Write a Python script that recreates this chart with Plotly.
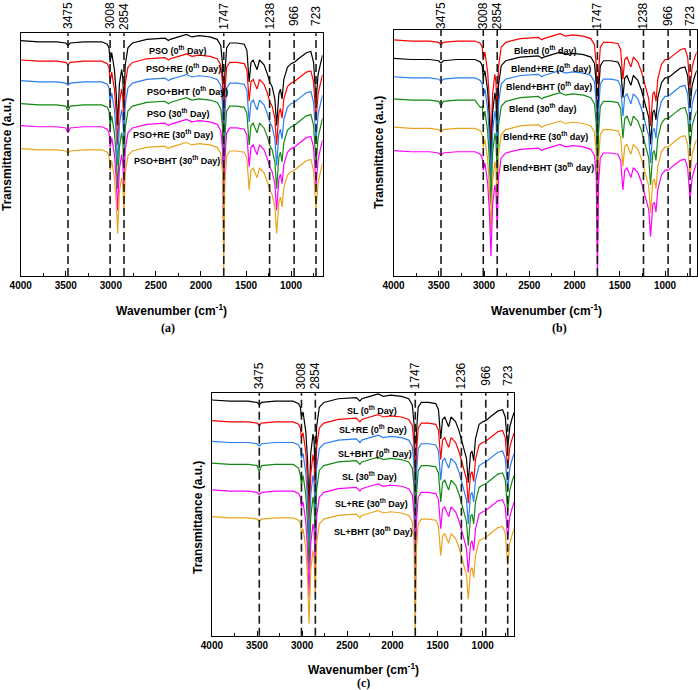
import plotly.graph_objects as go

# ---------------- data ----------------
WN = [4000, 3800, 3600, 3500, 3475, 3450, 3300, 3100, 3040, 3020,
      3008, 2990, 2960, 2940, 2924, 2905, 2880, 2868, 2854, 2840,
      2810, 2760, 2600, 2400, 2360, 2340, 2250, 2160, 2100, 2020,
      1900, 1820, 1780, 1760, 1747, 1735, 1715, 1680, 1600, 1520,
      1490, 1465, 1445, 1420, 1400, 1377, 1350, 1300, 1260, 1238,
      1210, 1180, 1160, 1135, 1118, 1100, 1080, 1040, 1000, 966,
      900, 830, 780, 750, 723, 700, 670, 650]

# Panel (a)
PSO_0 = [97, 96.5, 96.5, 96, 95, 96, 96.5, 96.5, 95.5, 94,
         88, 92, 85, 75, 62, 79, 85, 82, 70, 87,
         94, 96, 97.5, 98, 97, 97.5, 98.5, 99.5, 98.5, 99,
         98.5, 97.5, 95, 87, 47, 83, 94, 96, 96, 95.5,
         93, 80, 88, 89, 87, 85, 89, 87, 83, 80,
         78, 73, 62, 75, 77, 73, 81, 86, 87.5, 88,
         90, 92, 92.5, 88, 72, 83, 88, 91]
PSO_RE_0 = [89, 88.5, 88.5, 88, 87, 88, 88.5, 88.5, 87.5, 86,
            80, 84, 77, 67, 54, 71, 77, 74, 62, 79,
            86, 88, 89.5, 90, 89, 89.5, 90.5, 91.5, 90.5, 91,
            90.5, 89.5, 87, 79, 39, 75, 86, 88, 88, 87.5,
            85, 72, 80, 81, 79, 77, 81, 79, 75, 72,
            70, 65, 54, 67, 69, 65, 73, 78, 79.5, 80,
            82, 84, 84.5, 80, 64, 75, 80, 83]
PSO_BHT_0 = [80.5, 80, 80, 79.5, 78.5, 79.5, 80, 80, 79, 77.5,
             71.5, 75.5, 68.5, 58.5, 45.5, 62.5, 68.5, 65.5, 53.5, 70.5,
             77.5, 79.5, 81, 81.5, 80.5, 81, 82, 83, 82, 82.5,
             82, 81, 78.5, 70.5, 30.5, 66.5, 77.5, 79.5, 79.5, 79,
             76.5, 63.5, 71.5, 72.5, 70.5, 68.5, 72.5, 70.5, 66.5, 63.5,
             61.5, 56.5, 45.5, 58.5, 60.5, 56.5, 64.5, 69.5, 71, 71.5,
             73.5, 75.5, 76, 71.5, 55.5, 66.5, 71.5, 74.5]
PSO_30 = [71, 70.5, 70.5, 70, 68, 70, 70.5, 70.5, 69.5, 68,
          62, 66, 59, 49, 36, 53, 59, 56, 44, 61,
          68, 70, 71.5, 72, 71, 71.5, 72.5, 73.5, 72.5, 73,
          72.5, 71.5, 69, 61, 21, 57, 68, 70, 70, 69.5,
          67, 54, 62, 63, 61, 59, 63, 61, 57, 54,
          52, 47, 36, 49, 51, 47, 55, 60, 61.5, 62,
          64, 66, 66.5, 62, 46, 57, 62, 65]
PSO_RE_30 = [62, 61.5, 61.5, 61, 59, 61, 61.5, 61.5, 60.5, 59,
             53, 57, 50, 40, 27, 44, 50, 47, 35, 52,
             59, 61, 62.5, 63, 62, 62.5, 63.5, 64.5, 63.5, 64,
             63.5, 62.5, 60, 52, 12, 48, 59, 61, 61, 60.5,
             58, 45, 53, 54, 52, 50, 54, 52, 48, 45,
             43, 38, 27, 40, 42, 38, 46, 51, 52.5, 53,
             55, 57, 57.5, 53, 37, 48, 53, 56]
PSO_BHT_30 = [52.5, 52, 52, 51.5, 50.5, 51.5, 52, 52, 51, 49.5,
              43.5, 47.5, 40.5, 30.5, 17.5, 34.5, 40.5, 37.5, 25.5, 42.5,
              49.5, 51.5, 53, 53.5, 52.5, 53, 54, 55, 54, 54.5,
              54, 53, 50.5, 42.5, 2.5, 38.5, 49.5, 51.5, 51.5, 51,
              48.5, 35.5, 43.5, 44.5, 42.5, 40.5, 44.5, 42.5, 38.5, 35.5,
              33.5, 28.5, 17.5, 30.5, 32.5, 28.5, 36.5, 41.5, 43, 43.5,
              45.5, 47.5, 48, 43.5, 27.5, 38.5, 43.5, 46.5]

# Panel (b)
BLEND_0 = [96, 95.5, 95.5, 95, 94, 95, 95.5, 95.5, 94.5, 93,
           88, 91, 83, 71, 53, 74, 82, 79, 64, 85,
           93, 95, 96.5, 97, 96, 96.5, 97.5, 98.5, 97.5, 98,
           97.5, 96.5, 94, 86, 46, 82, 93, 95, 95, 94.5,
           92, 80, 88, 89, 87, 85, 89, 87, 83, 80,
           77, 72, 61, 74, 75, 71, 80, 86, 88, 88,
           90, 92, 92.5, 89, 76, 85, 89, 91]
BLEND_RE_0 = [88.5, 88, 88, 87.5, 86.5, 87.5, 88, 88, 87, 85.5,
              80.5, 83.5, 75.5, 63.5, 45.5, 66.5, 74.5, 71.5, 56.5, 77.5,
              85.5, 87.5, 89, 89.5, 88.5, 89, 90, 91, 90, 90.5,
              90, 89, 86.5, 78.5, 38.5, 74.5, 85.5, 87.5, 87.5, 87,
              84.5, 72.5, 80.5, 81.5, 79.5, 77.5, 81.5, 79.5, 75.5, 72.5,
              69.5, 64.5, 53.5, 66.5, 67.5, 63.5, 72.5, 78.5, 80.5, 80.5,
              82.5, 84.5, 85, 81.5, 68.5, 77.5, 81.5, 83.5]
BLEND_BHT_0 = [81, 80.5, 80.5, 80, 79, 80, 80.5, 80.5, 79.5, 78,
               73, 76, 68, 56, 38, 59, 67, 64, 49, 70,
               78, 80, 81.5, 82, 81, 81.5, 82.5, 83.5, 82.5, 83,
               82.5, 81.5, 79, 71, 31, 67, 78, 80, 80, 79.5,
               77, 65, 73, 74, 72, 70, 74, 72, 68, 65,
               62, 57, 46, 59, 60, 56, 65, 71, 73, 73,
               75, 77, 77.5, 74, 61, 70, 74, 76]
BLEND_30 = [72, 71.5, 71.5, 71, 69, 71, 71.5, 71.5, 68.5, 69,
            64, 67, 59, 47, 29, 50, 58, 55, 40, 61,
            69, 71, 72.5, 73, 72, 72.5, 73.5, 74.5, 73.5, 74,
            73.5, 72.5, 70, 62, 22, 58, 69, 71, 71, 70.5,
            68, 56, 64, 65, 63, 61, 65, 63, 59, 56,
            53, 48, 37, 50, 51, 47, 56, 62, 64, 64,
            66, 68, 68.5, 65, 52, 61, 65, 67]
BLEND_RE_30 = [60.5, 60, 60, 59.5, 58.5, 59.5, 60, 60, 59, 57.5,
               52.5, 55.5, 47.5, 35.5, 17.5, 38.5, 46.5, 43.5, 28.5, 49.5,
               57.5, 59.5, 61, 61.5, 60.5, 61, 62, 63, 62, 62.5,
               62, 61, 58.5, 50.5, 10.5, 46.5, 57.5, 59.5, 59.5, 59,
               56.5, 44.5, 52.5, 53.5, 51.5, 49.5, 53.5, 51.5, 47.5, 44.5,
               41.5, 36.5, 25.5, 38.5, 39.5, 35.5, 44.5, 50.5, 52.5, 52.5,
               54.5, 56.5, 57, 53.5, 40.5, 49.5, 53.5, 55.5]
BLEND_BHT_30 = [51, 50.5, 50.5, 50, 49, 50, 50.5, 50.5, 49.5, 48,
                43, 46, 38, 26, 8, 29, 37, 34, 19, 40,
                48, 50, 51.5, 52, 51, 51.5, 52.5, 53.5, 52.5, 53,
                52.5, 51.5, 49, 41, 1, 37, 48, 50, 50, 49.5,
                47, 35, 43, 44, 42, 40, 44, 42, 38, 35,
                32, 27, 16, 29, 30, 26, 35, 41, 43, 43,
                45, 47, 47.5, 44, 31, 40, 44, 46]

# Panel (c)
SL_0 = [97, 96.5, 96.5, 96, 95, 96, 96.5, 96.5, 95.5, 94,
        90, 92, 84, 72, 53, 75, 83, 80, 64, 86,
        94, 96, 97.5, 98, 96.5, 97.5, 98.5, 99.5, 98.5, 99,
        98.5, 97.5, 95, 87, 49, 83, 94, 96, 96, 95.5,
        93, 81, 89, 90, 88, 86, 90, 88, 84, 81,
        78, 73, 63, 75, 76, 72, 81, 87, 88, 88.5,
        90.5, 92.5, 93, 90, 77, 86, 90, 92]
SL_RE_0 = [88.5, 88, 88, 87.5, 86.5, 87.5, 88, 88, 87, 85.5,
           81.5, 83.5, 75.5, 63.5, 44.5, 66.5, 74.5, 71.5, 55.5, 77.5,
           85.5, 87.5, 89, 89.5, 88, 89, 90, 91, 90, 90.5,
           90, 89, 86.5, 78.5, 40.5, 74.5, 85.5, 87.5, 87.5, 87,
           84.5, 72.5, 80.5, 81.5, 79.5, 77.5, 81.5, 79.5, 75.5, 72.5,
           69.5, 64.5, 54.5, 66.5, 67.5, 63.5, 72.5, 78.5, 79.5, 80,
           82, 84, 84.5, 81.5, 68.5, 77.5, 81.5, 83.5]
SL_BHT_0 = [80, 79.5, 79.5, 79, 78, 79, 79.5, 79.5, 78.5, 77,
            73, 75, 67, 55, 36, 58, 66, 63, 47, 69,
            77, 79, 80.5, 81, 79.5, 80.5, 81.5, 82.5, 81.5, 82,
            81.5, 80.5, 78, 70, 32, 66, 77, 79, 79, 78.5,
            76, 64, 72, 73, 71, 69, 73, 71, 67, 64,
            61, 56, 46, 58, 59, 55, 64, 70, 71, 71.5,
            73.5, 75.5, 76, 73, 60, 69, 73, 75]
SL_30 = [71, 70.5, 70.5, 70, 67.5, 70, 70.5, 70.5, 69, 66,
         62, 66, 58, 46, 27, 49, 57, 54, 38, 60,
         68, 70, 71.5, 72, 70.5, 71.5, 72.5, 73.5, 72.5, 73,
         72.5, 71.5, 69, 61, 23, 57, 68, 70, 70, 69.5,
         67, 55, 63, 64, 62, 60, 64, 62, 58, 55,
         52, 47, 37, 49, 50, 46, 55, 61, 62, 62.5,
         64.5, 66.5, 67, 64, 51, 60, 64, 66]
SL_RE_30 = [60, 59.5, 59.5, 59, 58, 59, 59.5, 59.5, 58.5, 57,
            53, 55, 47, 35, 16, 38, 46, 43, 27, 49,
            57, 59, 60.5, 61, 59.5, 60.5, 61.5, 62.5, 61.5, 62,
            61.5, 60.5, 58, 50, 12, 46, 57, 59, 59, 58.5,
            56, 44, 52, 53, 51, 49, 53, 51, 47, 44,
            41, 36, 26, 38, 39, 35, 44, 50, 51, 51.5,
            53.5, 55.5, 56, 53, 40, 49, 53, 55]
SL_BHT_30 = [49, 48.5, 48.5, 48, 47, 48, 48.5, 48.5, 47.5, 46,
             42, 44, 36, 24, 5, 27, 35, 32, 16, 38,
             46, 48, 49.5, 50, 48.5, 49.5, 50.5, 51.5, 50.5, 51,
             50.5, 49.5, 47, 39, 1, 35, 46, 48, 48, 47.5,
             45, 33, 41, 42, 40, 38, 42, 40, 36, 33,
             30, 25, 15, 27, 28, 24, 33, 39, 40, 40.5,
             42.5, 44.5, 45, 42, 29, 38, 42, 44]

A_LABELS = ["PSO (0<sup>th</sup> Day)", "PSO+RE (0<sup>th</sup> Day)", "PSO+BHT (0<sup>th</sup> Day)",
            "PSO (30<sup>th</sup> Day)", "PSO+RE (30<sup>th</sup> Day)", "PSO+BHT (30<sup>th</sup> Day)"]
B_LABELS = ["Blend (0<sup>th</sup> day)", "Blend+RE (0<sup>th</sup> day)", "Blend+BHT (0<sup>th</sup> day)",
            "Blend (30<sup>th</sup> day)", "Blend+RE (30<sup>th</sup> day)", "Blend+BHT (30<sup>th</sup> day)"]
C_LABELS = ["SL (0<sup>th</sup> Day)", "SL+RE (0<sup>th</sup> Day)", "SL+BHT (0<sup>th</sup> Day)",
            "SL (30<sup>th</sup> Day)", "SL+RE (30<sup>th</sup> Day)", "SL+BHT (30<sup>th</sup> Day)"]

A_SERIES = [PSO_0, PSO_RE_0, PSO_BHT_0, PSO_30, PSO_RE_30, PSO_BHT_30]
B_SERIES = [BLEND_0, BLEND_RE_0, BLEND_BHT_0, BLEND_30, BLEND_RE_30, BLEND_BHT_30]
C_SERIES = [SL_0, SL_RE_0, SL_BHT_0, SL_30, SL_RE_30, SL_BHT_30]

# label anchor positions (wavenumber, transmittance)
A_LABEL_X = [2265, 2199, 2154, 2254, 2310, 2265]
A_LABEL_Y = [93.1, 85.7, 76.2, 67.2, 58.5, 47.8]
B_LABEL_X = [2326, 2263, 2282, 2356, 2318, 2290]
B_LABEL_Y = [91.9, 84.4, 77.2, 68.2, 56.9, 44.2]
C_LABEL_X = [2230, 2213, 2194, 2257, 2230, 2205]
C_LABEL_Y = [92.9, 84.9, 75.3, 65.7, 54.7, 43.2]

PEAKS_AB = [3475, 3008, 2854, 1747, 1238, 966, 723]
PEAKS_C = [3475, 3008, 2854, 1747, 1236, 966, 723]

BLACK, RED, BLUE, GREEN, MAGENTA, ORANGE = "#000000", "#ff0000", "#2a7ef0", "#138a13", "#ff00ff", "#e9a41c"
A_COLORS = [BLACK, RED, BLUE, GREEN, MAGENTA, ORANGE]
B_COLORS = [RED, BLACK, BLUE, GREEN, ORANGE, MAGENTA]
C_COLORS = [BLACK, RED, BLUE, GREEN, MAGENTA, ORANGE]

SANS = "Liberation Sans, Arial, sans-serif"
SERIF = "Liberation Serif, Times New Roman, serif"

fig = go.Figure()

panels = [
    ("x", "y", A_SERIES, A_COLORS, A_LABELS, A_LABEL_X, A_LABEL_Y, PEAKS_AB),
    ("x2", "y2", B_SERIES, B_COLORS, B_LABELS, B_LABEL_X, B_LABEL_Y, PEAKS_AB),
    ("x3", "y3", C_SERIES, C_COLORS, C_LABELS, C_LABEL_X, C_LABEL_Y, PEAKS_C),
]

annotations = []
shapes = []
for xa, ya, series, colors, labels, lx, ly, peaks in panels:
    for ys, col, lab in zip(series, colors, labels):
        fig.add_trace(go.Scatter(x=WN, y=ys, mode="lines", xaxis=xa, yaxis=ya,
                                 line=dict(color=col, width=1.2), name=lab,
                                 showlegend=False, hoverinfo="skip"))
    for lab, xx, yy in zip(labels, lx, ly):
        annotations.append(dict(x=xx, y=yy, xref=xa, yref=ya, text="<b>" + lab + "</b>",
                                showarrow=False, font=dict(family=SANS, size=9, color="black"),
                                xanchor="center", yanchor="middle"))
    for p in peaks:
        shapes.append(dict(type="line", xref=xa, yref=ya + " domain", x0=p, x1=p, y0=0, y1=1,
                           line=dict(color="#1a1a1a", width=1.6, dash="8px,4px")))

# peak labels above the panels
for xa, peaks, ycen in [("x", PEAKS_AB, 1 - 16 / 690), ("x2", PEAKS_AB, 1 - 16 / 690),
                        ("x3", PEAKS_C, 1 - 376 / 690)]:
    for p in peaks:
        annotations.append(dict(x=p, y=ycen, xref=xa, yref="paper", text=str(p), textangle=-90,
                                showarrow=False, font=dict(family=SANS, size=12, color="black"),
                                xanchor="center", yanchor="middle"))

# axis titles & panel letters (pixel centres)
for xc, yc in [(171, 310), (546, 310), (363, 669)]:
    annotations.append(dict(x=xc / 698, y=1 - yc / 690, xref="paper", yref="paper",
                            text="<b>Wavenumber (cm<sup>-1</sup>)</b>", showarrow=False,
                            xanchor="center", yanchor="middle",
                            font=dict(family=SANS, size=12, color="black")))
for xc, yc in [(7, 155), (379, 153), (198, 518)]:
    annotations.append(dict(x=xc / 698, y=1 - yc / 690, xref="paper", yref="paper",
                            text="<b>Transmittance (a.u.)</b>", showarrow=False, textangle=-90,
                            xanchor="center", yanchor="middle",
                            font=dict(family=SANS, size=12, color="black")))
for txt, xc, yc in [("(a)", 168, 328), ("(b)", 559, 328), ("(c)", 363, 683)]:
    annotations.append(dict(x=xc / 698, y=1 - yc / 690, xref="paper", yref="paper",
                            text="<b>" + txt + "</b>", showarrow=False,
                            xanchor="center", yanchor="middle",
                            font=dict(family=SERIF, size=12, color="black")))


def xaxis(domain, anchor):
    return dict(domain=domain, anchor=anchor, range=[4000, 650], tickmode="linear", tick0=0, dtick=500,
                ticks="inside", ticklen=5, tickwidth=1, tickcolor="black",
                minor=dict(ticks="inside", ticklen=3, dtick=250, tick0=0, tickcolor="black"),
                showline=True, linecolor="black", linewidth=1, mirror=True,
                showgrid=False, zeroline=False, automargin=False,
                tickfont=dict(family=SANS, size=10, color="black", weight="bold"))


def yaxis(domain, anchor):
    return dict(domain=domain, anchor=anchor, range=[0, 100], showticklabels=False, ticks="",
                showline=True, linecolor="black", linewidth=1, mirror=True,
                showgrid=False, zeroline=False, automargin=False)


fig.update_layout(
    width=698, height=690, margin=dict(l=0, r=0, t=0, b=0, autoexpand=False),
    paper_bgcolor="white", plot_bgcolor="white",
    xaxis=xaxis([20.7 / 698, 322.6 / 698], "y"),
    yaxis=yaxis([1 - 276 / 690, 1 - 33.3 / 690], "x"),
    xaxis2=xaxis([393.5 / 698, 696.7 / 698], "y2"),
    yaxis2=yaxis([1 - 276 / 690, 1 - 30 / 690], "x2"),
    xaxis3=xaxis([211.9 / 698, 514.3 / 698], "y3"),
    yaxis3=yaxis([1 - 635.7 / 690, 1 - 392.7 / 690], "x3"),
    annotations=annotations, shapes=shapes, showlegend=False,
    hovermode=False,
)

fig.write_html("out.html", config={"displayModeBar": False, "staticPlot": True},
               post_script="document.body.style.margin='0px';document.body.style.overflow='hidden';")
